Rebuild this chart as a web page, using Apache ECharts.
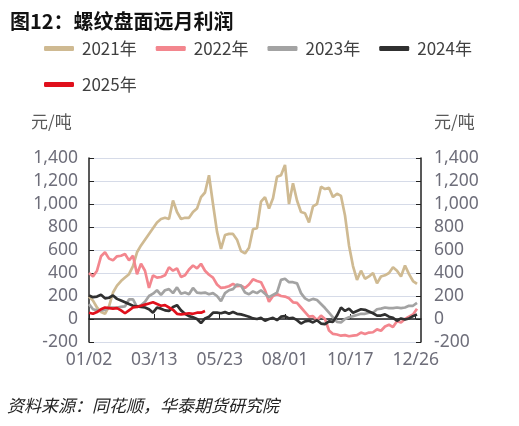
<!DOCTYPE html>
<html><head><meta charset="utf-8">
<script src="https://cdn.jsdelivr.net/npm/echarts@6/dist/echarts.min.js"></script>
<style>html,body{margin:0;padding:0;background:#fff;}#c{width:519px;height:426px;}</style>
</head><body><div id="c"></div>
<script>
// x positions are trading-day indices; values sampled every STEP trading days
const STEP = 3;
const tickLabels = ['01/02','03/13','05/23','08/01','10/17','12/26'];
const TICK_EVERY = 49;
const seriesNames = ['2021年','2022年','2023年','2024年','2025年'];

const s2021 = [195,160,100,60,45,110,230,290,330,360,390,460,580,640,690,740,790,840,870,880,870,1030,930,870,880,880,930,960,1060,1100,1250,1000,760,610,730,740,740,690,590,570,620,780,790,1020,1060,960,1050,1236,1250,1340,1000,1180,1030,930,920,840,980,1000,1150,1130,1140,1060,1090,1070,900,640,460,340,420,350,370,400,310,370,380,400,450,420,370,465,390,330,305];
const s2022 = [400,370,420,545,580,525,510,545,550,565,510,550,390,480,420,270,380,360,365,380,450,420,440,365,380,430,465,440,480,420,385,360,300,270,275,285,305,285,290,270,300,345,330,320,250,150,200,218,200,195,180,145,140,100,60,20,25,-10,30,0,-100,-130,-135,-145,-140,-150,-145,-140,-118,-130,-118,-115,-90,-102,-65,-50,-70,-20,-30,0,20,40,90];
const s2023 = [130,85,75,75,80,100,100,100,105,110,170,170,105,120,150,200,220,250,210,250,260,225,275,220,230,215,270,230,225,230,215,225,200,155,225,250,260,300,290,230,215,240,225,250,220,190,210,230,340,350,320,320,310,225,180,160,175,165,130,95,55,15,-25,-30,0,15,25,35,45,45,55,55,85,90,100,95,95,100,95,100,115,115,140];
const s2024 = [205,190,195,210,180,185,205,175,160,145,130,115,110,105,100,85,55,100,90,75,70,105,120,75,45,25,15,0,-35,5,20,55,55,50,60,45,60,45,40,30,20,5,0,10,-15,0,10,-10,20,25,5,10,-10,-40,-20,-15,-30,-10,-40,-45,-20,-25,30,100,70,90,55,70,85,80,65,50,30,30,40,20,10,-15,5,-5,5,25,40];
const s2025 = [55,45,60,85,100,95,90,95,75,50,75,100,105,115,125,135,145,130,115,120,100,80,45,40,45,50,45,55,55,70];

const colors = ['#cfba92','#f3868e','#a3a3a3','#303030','#e0101c'];
const allValues = [s2021,s2022,s2023,s2024,s2025];

const series = allValues.map((arr, k) => ({
  name: seriesNames[k],
  type: 'line',
  showSymbol: false,
  symbol: 'none',
  data: arr.map((v, i) => [i * STEP, v]),
  lineStyle: { width: 2.7, color: colors[k] },
  itemStyle: { color: colors[k] },
  z: 2 + k
}));

const axisFont = { fontFamily: 'Noto Sans, sans-serif', fontSize: 17.5, color: '#6e6e7a' };

const chart = echarts.init(document.getElementById('c'), null, { renderer: 'canvas' });
chart.setOption({
  animation: false,
  backgroundColor: '#fff',
  title: {
    text: '图12：螺纹盘面远月利润',
    left: 5, top: 6,
    textStyle: { fontFamily: 'Noto Sans CJK SC', fontSize: 20, fontWeight: 'bold', color: '#111' }
  },
  legend: {
    left: 39, top: 35,
    itemWidth: 30, itemHeight: 5, itemGap: 19,
    icon: 'roundRect',
    textStyle: { fontFamily: 'Noto Sans CJK SC', fontSize: 17, color: '#404040', lineHeight: 17, padding: [0,0,0,3] },
    data: seriesNames
  },
  graphic: [
    { type: 'text', left: 31, top: 113, style: { text: '元/吨', font: '17px "Noto Sans CJK SC"', fill: '#595959' } },
    { type: 'text', left: 434, top: 113, style: { text: '元/吨', font: '17px "Noto Sans CJK SC"', fill: '#595959' } },
    { type: 'text', left: 7, top: 397, style: { text: '资料来源：同花顺，华泰期货研究院', font: 'italic 17px "Noto Sans CJK SC"', fill: '#222' } }
  ],
  grid: { left: 89, right: 98, top: 158, bottom: 84 },
  xAxis: {
    type: 'value',
    min: 0, max: 249, interval: TICK_EVERY,
    axisLine: { lineStyle: { color: '#222', width: 1.5 } },
    axisTick: { inside: true, length: 5, lineStyle: { color: '#222' } },
    splitLine: { show: false },
    axisLabel: Object.assign({}, axisFont, {
      margin: 9,
      showMaxLabel: false,
      formatter: v => { const k = v / TICK_EVERY; return Number.isInteger(k) && tickLabels[k] ? tickLabels[k] : ''; }
    })
  },
  yAxis: [
    {
      type: 'value', min: -200, max: 1400, interval: 200, position: 'left',
      axisLine: { show: true, lineStyle: { color: '#222', width: 1.5 } },
      axisTick: { show: true, inside: true, length: 5, lineStyle: { color: '#222' } },
      splitLine: { show: true, lineStyle: { color: '#d6dbe8', width: 1 } },
      axisLabel: Object.assign({}, axisFont, { margin: 11, formatter: v => v.toLocaleString('en-US') })
    },
    {
      type: 'value', min: -200, max: 1400, interval: 200, position: 'right',
      axisLine: { show: true, lineStyle: { color: '#222', width: 1.5 } },
      axisTick: { show: true, inside: true, length: 5, lineStyle: { color: '#222' } },
      splitLine: { show: false },
      axisLabel: Object.assign({}, axisFont, { margin: 13, formatter: v => v.toLocaleString('en-US') })
    }
  ],
  series: series
});
</script></body></html>
